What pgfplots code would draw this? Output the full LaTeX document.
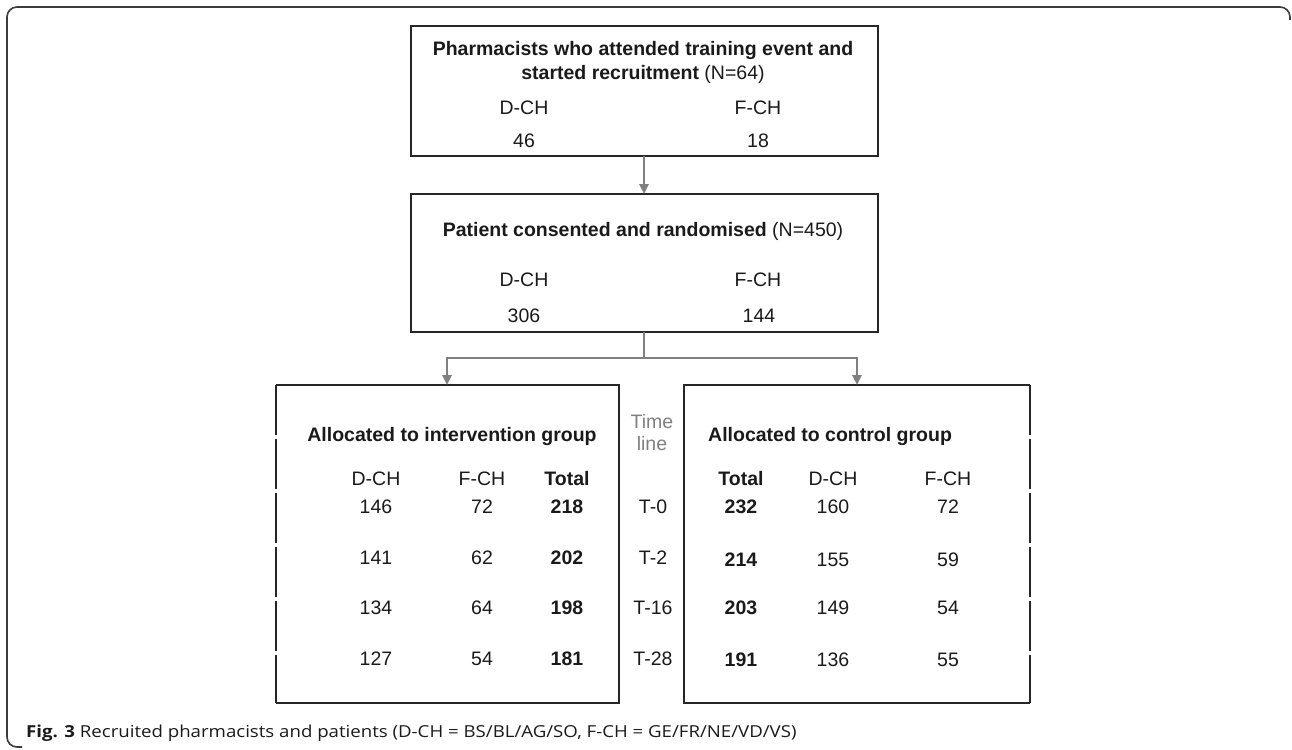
\documentclass[border=0pt]{standalone}
\usepackage{pgfplots}
\pgfplotsset{compat=1.18}
\usepackage{pgfplotstable}
\usepackage{fontspec}
\setmainfont{Liberation Sans}
\newfontfamily\capfont{Open Sans}
\usetikzlibrary{arrows.meta}
\definecolor{txt}{RGB}{26,26,26}
\definecolor{arr}{RGB}{128,128,128}
\definecolor{frm}{RGB}{60,60,60}
\newcommand\fs{\fontsize{19.5bp}{23bp}\selectfont}

% regular numbers (x, y = centre in pixels, value)
\pgfplotstableread{
x y v
524 140 46
758 140 18
524 315 306
759 315 144
376 506 146
482 506 72
376 557 141
482 557 62
376 607 134
482 607 64
376 658 127
482 658 54
833 506 160
948 506 72
833 559 155
948 559 59
833 607 149
948 607 54
833 659 136
948 659 55
}\regular
% totals (bold)
\pgfplotstableread{
x y v
567 506 218
567 557 202
567 607 198
567 658 181
741 506 232
741 559 214
741 607 203
741 659 191
}\totals
% time line
\pgfplotstableread{
x y v
653 506 T-0
653 557 T-2
653 607 T-16
653 658 T-28
}\timeline

\begin{document}
\begin{tikzpicture}
\begin{axis}[width=1292bp,height=749bp,scale only axis,
  xmin=0,xmax=1292,ymin=0,ymax=749,y dir=reverse,hide axis,clip=false,
  nodes near coords style={anchor=base,yshift=-7bp,inner sep=0pt,font=\fs,text=txt}]
\path (0,0) (1292,749);
% outer frame
\draw[frm,line width=1.6bp,rounded corners=10bp] (1290,20) -- (1290,7) -- (7,7) -- (7,747) -- (22,747);
% boxes
\draw[black!85,line width=1.5bp] (411,26) rectangle (878,156);
\draw[black!85,line width=1.5bp] (411,194) rectangle (878,332);
\draw[black!85,line width=1.5bp] (276,385) -- (619,385) -- (619,703) -- (276,703);
\draw[black!85,line width=1.5bp,dash pattern=on 50bp off 4bp] (276,385) -- (276,703);
\draw[black!85,line width=1.5bp] (1030,385) -- (684,385) -- (684,703) -- (1030,703);
\draw[black!85,line width=1.5bp,dash pattern=on 50bp off 4bp] (1030,385) -- (1030,703);
% connectors
\draw[arr,line width=2.5bp,-{Triangle[length=10bp,width=9bp]}] (644,156) -- (644,194);
\draw[arr,line width=2.5bp] (644,332) -- (644,358);
\draw[arr,line width=2.5bp,-{Triangle[length=10bp,width=9bp]}] (644,358) -| (447,385);
\draw[arr,line width=2.5bp,-{Triangle[length=10bp,width=9bp]}] (644,358) -| (857,385);
% titles
\node[anchor=base,inner sep=0pt,font=\fs,text=txt] at (643,56) {\bfseries Pharmacists who attended training event and};
\node[anchor=base,inner sep=0pt,font=\fs,text=txt] at (643,80) {\bfseries started recruitment \mdseries(N=64)};
\node[anchor=base,inner sep=0pt,font=\fs,text=txt] at (643,236) {\bfseries Patient consented and randomised \mdseries(N=450)};
\node[anchor=base,inner sep=0pt,font=\fs\bfseries,text=txt] at (452,441) {Allocated to intervention group};
\node[anchor=base west,inner sep=0pt,font=\fs\bfseries,text=txt] at (708,441) {Allocated to control group};
% headers
\node[anchor=base,inner sep=0pt,font=\fs,text=txt] at (524,115) {D-CH};
\node[anchor=base,inner sep=0pt,font=\fs,text=txt] at (758,115) {F-CH};
\node[anchor=base,inner sep=0pt,font=\fs,text=txt] at (524,286) {D-CH};
\node[anchor=base,inner sep=0pt,font=\fs,text=txt] at (758,286) {F-CH};
\node[anchor=base,inner sep=0pt,font=\fs,text=txt] at (376,485) {D-CH};
\node[anchor=base,inner sep=0pt,font=\fs,text=txt] at (482,485) {F-CH};
\node[anchor=base,inner sep=0pt,font=\fs\bfseries,text=txt] at (567,485) {Total};
\node[anchor=base,inner sep=0pt,font=\fs\bfseries,text=txt] at (741,485) {Total};
\node[anchor=base,inner sep=0pt,font=\fs,text=txt] at (833,485) {D-CH};
\node[anchor=base,inner sep=0pt,font=\fs,text=txt] at (948,485) {F-CH};
\node[anchor=base,inner sep=0pt,font=\fs,text=arr] at (652,428) {Time};
\node[anchor=base,inner sep=0pt,font=\fs,text=arr] at (652,450) {line};
% values
\addplot[only marks,mark=none,nodes near coords,point meta=explicit symbolic] table[x=x,y=y,meta=v] {\regular};
\addplot[only marks,mark=none,nodes near coords,point meta=explicit symbolic,
  nodes near coords style={font=\fs\bfseries}] table[x=x,y=y,meta=v] {\totals};
\addplot[only marks,mark=none,nodes near coords,point meta=explicit symbolic] table[x=x,y=y,meta=v] {\timeline};
% caption
\node[anchor=base west,inner sep=0pt,text=txt] at (26,737) {\scalebox{1.13}[1]{\capfont\fontsize{16.5bp}{19bp}\selectfont\textbf{Fig. 3} Recruited pharmacists and patients (D-CH = BS/BL/AG/SO, F-CH = GE/FR/NE/VD/VS)}};
\end{axis}
\end{tikzpicture}
\end{document}
